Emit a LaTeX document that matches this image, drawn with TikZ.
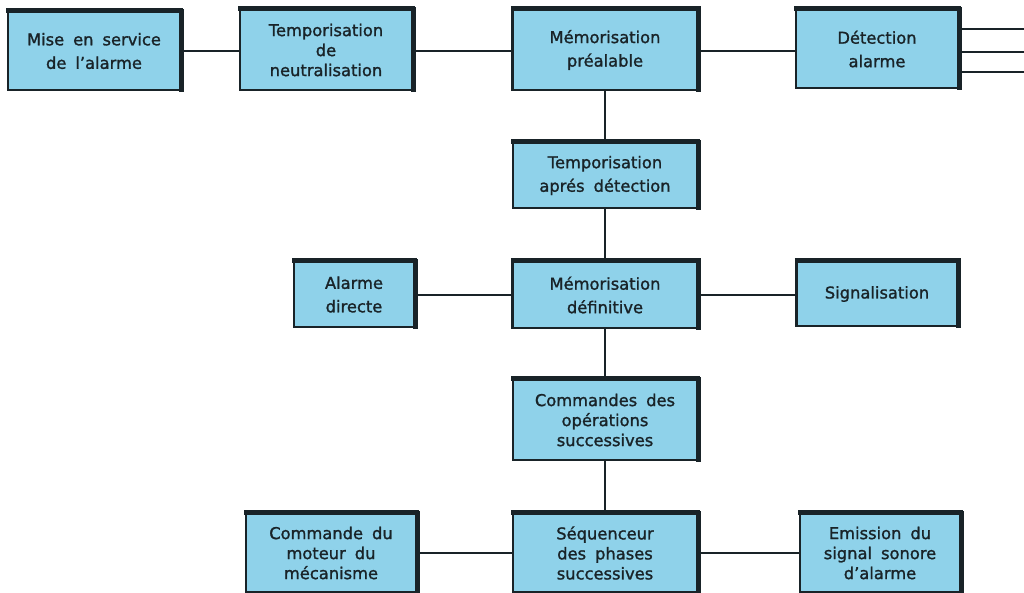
\documentclass[tikz,border=0pt]{standalone}
\usepackage{fontspec}
\setmainfont[BoldFont={DejaVu Sans}, BoldFeatures={FakeBold=1.3}]{DejaVu Sans}
\definecolor{boxfill}{RGB}{143,210,234}
\definecolor{ink}{RGB}{25,35,40}
\newcommand{\myboxfont}{\fontsize{16.3}{23.5}\selectfont\bfseries\spaceskip=9pt plus 2pt\relax}
\newcommand{\mytrifont}{\fontsize{16.3}{20}\selectfont\bfseries\spaceskip=9pt plus 2pt\relax}
\begin{document}
\begin{tikzpicture}[x=1pt,y=-1pt,
  box/.style={draw=ink, line width=2.4pt, fill=boxfill, text=ink, align=center,
    inner sep=0pt, font=\myboxfont,
    append after command={
      (\tikzlastnode.north west) edge[line width=5pt, draw=ink, shorten <=-0.5pt, shorten >=-2pt] (\tikzlastnode.north east)
      (\tikzlastnode.north east) edge[line width=5pt, draw=ink, shorten <=-1.5pt, shorten >=-1pt] (\tikzlastnode.south east)
    }},
  tri/.style={font=\mytrifont},
  wire/.style={draw=ink, line width=2.6pt}]
\useasboundingbox (0,0) rectangle (1024,593);
\fill[white] (0,0) rectangle (1024,593);

\node[box, minimum width=172pt, minimum height=78pt] (mise) at (94,51) {Mise en service\\de l'alarme};
\node[box, tri, minimum width=172pt, minimum height=80pt] (tneut) at (326,50) {Temporisation\\de\\neutralisation};
\node[box, minimum width=185pt, minimum height=80pt] (mpre) at (605,50) {Mémorisation\\préalable};
\node[box, minimum width=162pt, minimum height=78pt] (det) at (877,49) {Détection\\alarme};
\node[box, minimum width=184pt, minimum height=65pt] (tapres) at (605,175.5) {Temporisation\\aprés détection};
\node[box, minimum width=120pt, minimum height=65pt] (adir) at (354,294.5) {Alarme\\directe};
\node[box, minimum width=185pt, minimum height=66pt] (mdef) at (605,295) {Mémorisation\\définitive};
\node[box, minimum width=161pt, minimum height=64pt] (sig) at (877,294) {Signalisation};
\node[box, tri, minimum width=184pt, minimum height=80pt] (cmd) at (605,420) {Commandes des\\opérations\\successives};
\node[box, tri, minimum width=170pt, minimum height=78pt] (mot) at (331,553) {Commande du\\moteur du\\mécanisme};
\node[box, tri, minimum width=184pt, minimum height=78pt] (seq) at (605,553) {Séquenceur\\des phases\\successives};
\node[box, tri, minimum width=160pt, minimum height=78pt] (emi) at (880,553) {Emission du\\signal sonore\\d'alarme};

\coordinate (o1) at (1024,29);
\coordinate (o2) at (1024,52);
\coordinate (o3) at (1024,72);

\path[wire] (mise.east |- 0,51) -- (tneut.west |- 0,51);
\path[wire] (tneut.east |- 0,51) -- (mpre.west |- 0,51);
\path[wire] (mpre.east |- 0,51) -- (det.west |- 0,51);
\path[wire] (det.east |- o1) -- (o1);
\path[wire] (det.east |- o2) -- (o2);
\path[wire] (det.east |- o3) -- (o3);
\path[wire] (mpre.south) -- (tapres.north);
\path[wire] (tapres.south) -- (mdef.north);
\path[wire] (mdef.west |- 0,295) -- (adir.east |- 0,295);
\path[wire] (mdef.east |- 0,295) -- (sig.west |- 0,295);
\path[wire] (mdef.south) -- (cmd.north);
\path[wire] (cmd.south) -- (seq.north);
\path[wire] (seq.west) -- (mot.east |- seq.west);
\path[wire] (seq.east) -- (emi.west |- seq.east);
\end{tikzpicture}
\end{document}
